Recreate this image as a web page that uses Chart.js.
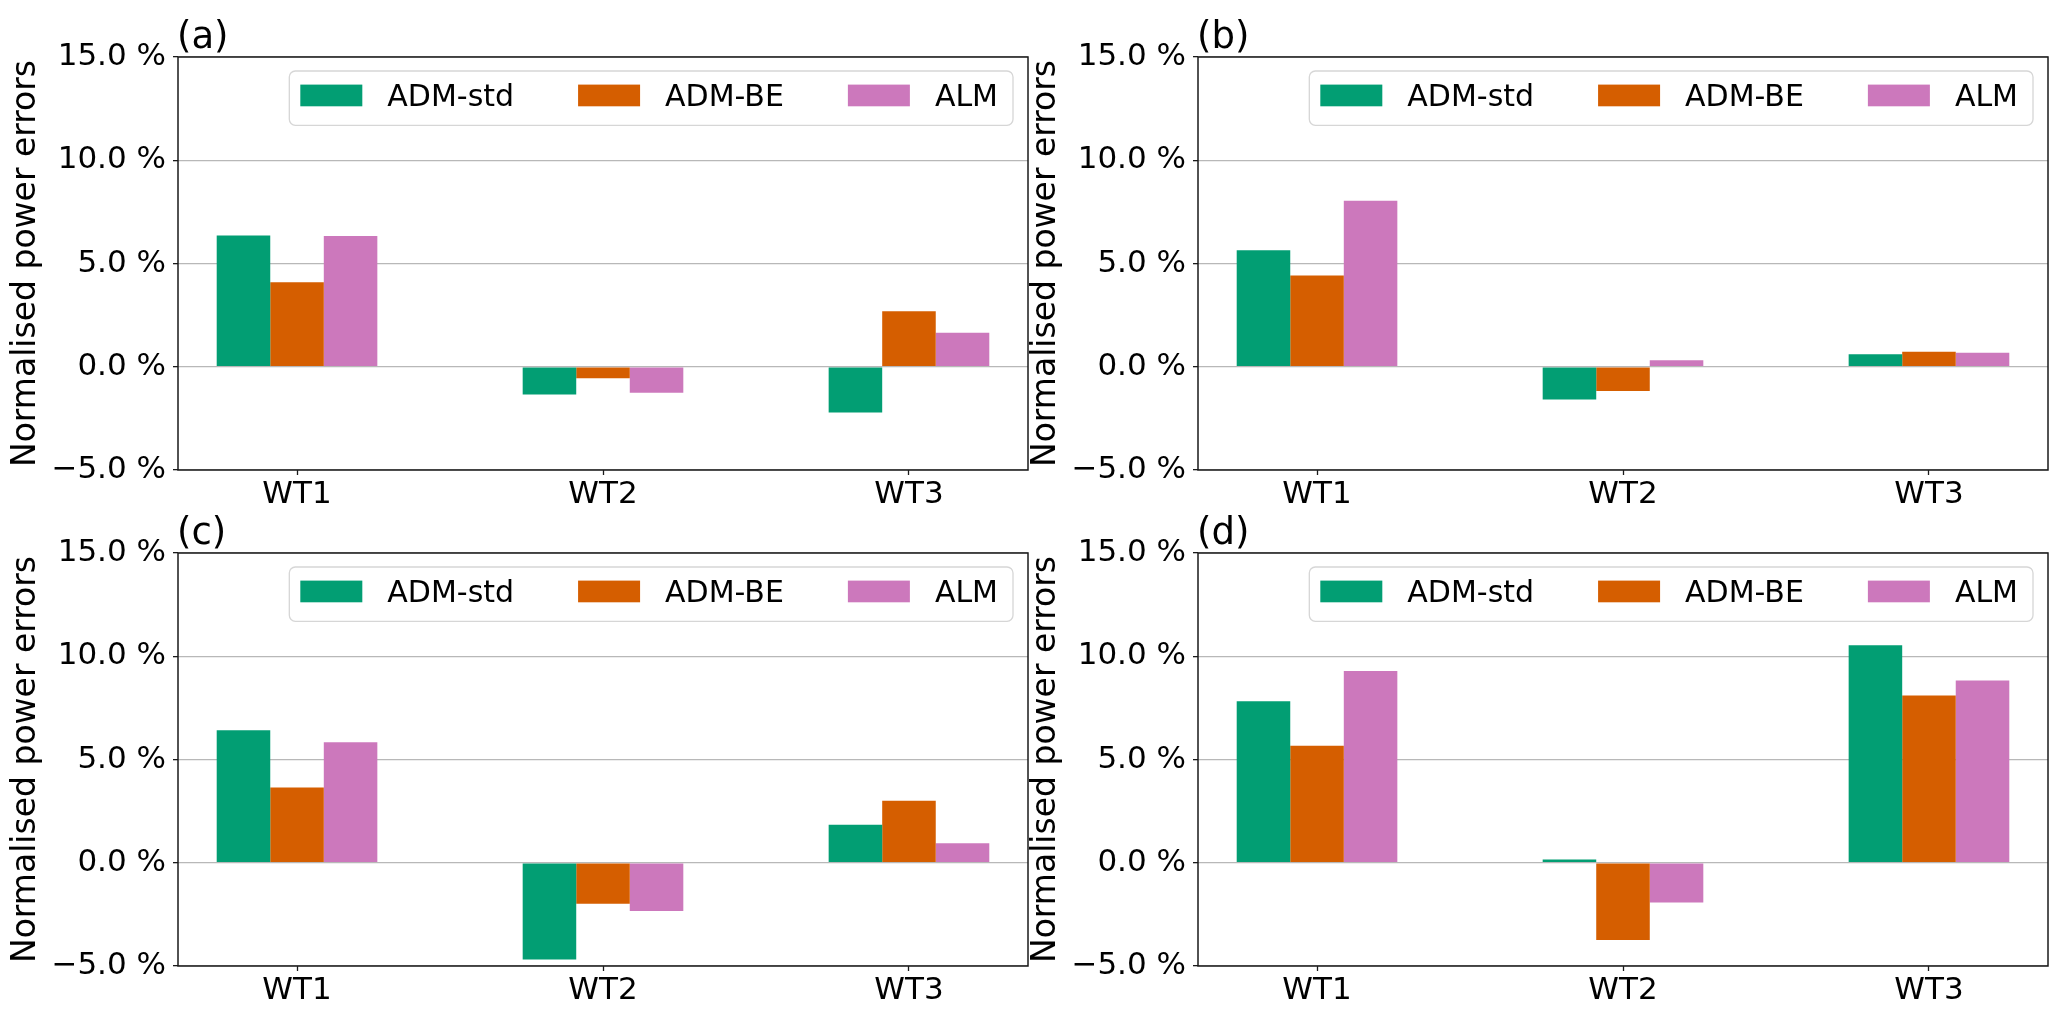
<!DOCTYPE html>
<html>
<head>
<meta charset="utf-8">
<script src="https://cdn.jsdelivr.net/npm/chart.js@4.4.1/dist/chart.umd.min.js"></script>
<style>
  html, body { margin: 0; padding: 0; background: #fff; }
  #wrap { position: relative; width: 2067px; height: 1020px; overflow: hidden; }
  canvas { position: absolute; }
</style>
</head>
<body>
<div id="wrap">
  <canvas id="chartA" width="1040" height="510" style="left:0px;top:0px;"></canvas>
  <canvas id="chartB" width="1040" height="510" style="left:1020px;top:0px;"></canvas>
  <canvas id="chartC" width="1040" height="510" style="left:0px;top:496px;"></canvas>
  <canvas id="chartD" width="1040" height="510" style="left:1020px;top:496px;"></canvas>
</div>
<script>
// ====== datos ======
const categorias = ['WT1', 'WT2', 'WT3'];
const series = ['ADM-std', 'ADM-BE', 'ALM'];
const colores = ['#029E73', '#D55E00', '#CC78BC'];
const yTicks = [-5, 0, 5, 10, 15];

// (a)
const aAdmStd = [6.36, -1.34, -2.21];
const aAdmBE  = [4.09, -0.56, 2.69];
const aAlm    = [6.33, -1.26, 1.65];
// (b)
const bAdmStd = [5.64, -1.58, 0.60];
const bAdmBE  = [4.42, -1.18, 0.73];
const bAlm    = [8.04, 0.31, 0.68];
// (c)
const cAdmStd = [6.42, -4.68, 1.84];
const cAdmBE  = [3.65, -1.98, 3.00];
const cAlm    = [5.84, -2.34, 0.95];
// (d)
const dAdmStd = [7.82, 0.16, 10.53];
const dAdmBE  = [5.66, -3.74, 8.10];
const dAlm    = [9.29, -1.92, 8.82];

const FONT = "'DejaVu Sans', 'Liberation Sans', sans-serif";

// marco + titulo del panel + leyenda dentro del area
const panelPlugin = {
    id: 'panelExtras',
    afterDraw(chart, args, opts) {
        const { ctx, chartArea: ca } = chart;
        ctx.save();

        // marco negro
        ctx.strokeStyle = '#1a1a1a';
        ctx.lineWidth = 1.5;
        ctx.strokeRect(ca.left, ca.top, ca.right - ca.left, ca.bottom - ca.top);

        // titulo (a), (b)...
        ctx.fillStyle = '#000';
        ctx.font = '37px ' + FONT;
        ctx.textAlign = 'left';
        ctx.textBaseline = 'alphabetic';
        ctx.fillText(opts.letra, ca.left - 1, ca.top - 9);

        // leyenda
        ctx.font = '30px ' + FONT;
        const sw = 62, sh = 21.7, gapTxt = 25, gapCol = 64, padL = 11, padR = 15, boxH = 54.3;
        const items = chart.data.datasets.map(ds => ({
            label: ds.label, color: ds.backgroundColor, w: ctx.measureText(ds.label).width
        }));
        let boxW = padL + padR;
        items.forEach((it, i) => { boxW += sw + gapTxt + it.w + (i > 0 ? gapCol : 0); });
        const bx = ca.right - 15 - boxW;
        const by = ca.top + 14;

        ctx.beginPath();
        ctx.roundRect(bx, by, boxW, boxH, 6);
        ctx.fillStyle = 'rgba(255,255,255,0.8)';
        ctx.fill();
        ctx.strokeStyle = '#d6d6d6';
        ctx.lineWidth = 1.3;
        ctx.stroke();

        let x = bx + padL;
        items.forEach((it, i) => {
            if (i > 0) x += gapCol;
            ctx.fillStyle = it.color;
            ctx.fillRect(x, by + 13.6, sw, sh);
            x += sw + gapTxt;
            ctx.fillStyle = '#000';
            ctx.fillText(it.label, x, by + 35.3);
            x += it.w;
        });

        ctx.restore();
    }
};

function fmtPct(v) {
    const s = Math.abs(v).toFixed(1) + ' %';
    return v < 0 ? '\u2212' + s : s;
}

function crearPanel(id, letra, v1, v2, v3) {
    const valores = [v1, v2, v3];
    const datasets = series.map((nombre, k) => ({
        label: nombre,
        data: categorias.map((c, i) => ({ x: i, y: valores[k][i] })),
        backgroundColor: colores[k],
        borderWidth: 0,
        categoryPercentage: 0.525,
        barPercentage: 1.0
    }));

    return new Chart(document.getElementById(id), {
        type: 'bar',
        data: { datasets },
        options: {
            responsive: false,
            animation: false,
            devicePixelRatio: 1,
            layout: { padding: { top: 57, right: 12, bottom: 0, left: 0 } },
            plugins: {
                legend: { display: false },
                tooltip: { enabled: false },
                panelExtras: { letra }
            },
            scales: {
                x: {
                    type: 'linear',
                    min: -0.389,
                    max: 2.389,
                    offset: false,
                    afterFit: (s) => { s.height = 40; },
                    border: { display: false },
                    grid: {
                        offset: false,
                        drawOnChartArea: false,
                        drawTicks: true,
                        tickLength: 5,
                        tickColor: '#1a1a1a',
                        tickWidth: 1.3
                    },
                    ticks: {
                        stepSize: 1,
                        includeBounds: false,
                        autoSkip: false,
                        maxRotation: 0,
                        padding: 1,
                        color: '#000',
                        font: { family: FONT, size: 31 },
                        callback: (v) => categorias[v] ?? ''
                    }
                },
                y: {
                    min: -5,
                    max: 15,
                    z: 1,
                    afterFit: (s) => { s.width = 178; },
                    afterBuildTicks: (s) => { s.ticks = yTicks.map(v => ({ value: v })); },
                    border: { display: false },
                    grid: {
                        color: 'rgba(140,140,140,0.62)',
                        lineWidth: 1.3,
                        drawTicks: true,
                        tickLength: 5,
                        tickColor: '#1a1a1a',
                        tickWidth: 1.3
                    },
                    ticks: {
                        padding: 7,
                        color: '#000',
                        font: { family: FONT, size: 31 },
                        callback: (v) => fmtPct(v)
                    },
                    title: {
                        display: true,
                        text: 'Normalised power errors',
                        color: '#000',
                        font: { family: FONT, size: 33 },
                        padding: { top: 7, bottom: 0 }
                    }
                }
            }
        },
        plugins: [panelPlugin]
    });
}

crearPanel('chartA', '(a)', aAdmStd, aAdmBE, aAlm);
crearPanel('chartB', '(b)', bAdmStd, bAdmBE, bAlm);
crearPanel('chartC', '(c)', cAdmStd, cAdmBE, cAlm);
crearPanel('chartD', '(d)', dAdmStd, dAdmBE, dAlm);
</script>
</body>
</html>
